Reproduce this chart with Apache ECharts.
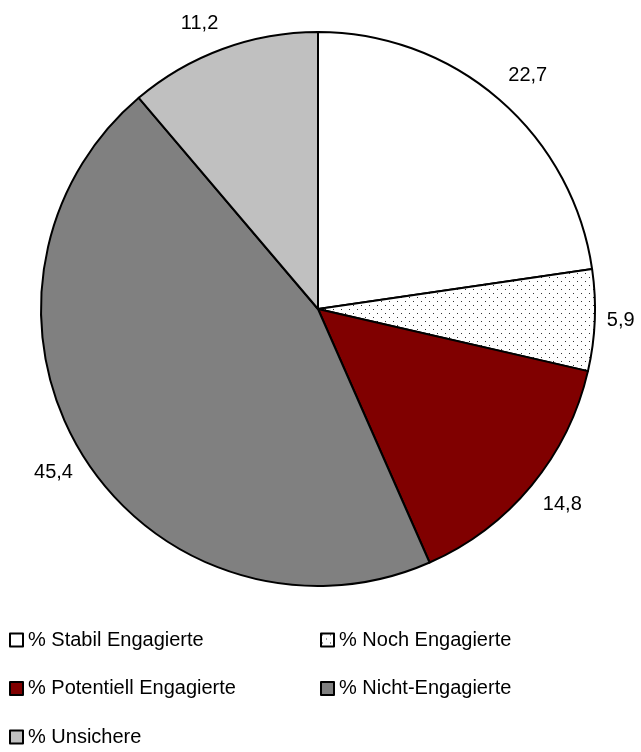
<!DOCTYPE html>
<html>
<head>
<meta charset="utf-8">
<script src="https://cdn.jsdelivr.net/npm/echarts@6/dist/echarts.min.js"></script>
<style>
  html, body { margin: 0; padding: 0; background: #fff; }
  #chart { width: 641px; height: 752px; }
</style>
</head>
<body>
<div id="chart"></div>
<script>
// Daten
const categories = ['% Stabil Engagierte', '% Noch Engagierte', '% Potentiell Engagierte', '% Nicht-Engagierte', '% Unsichere'];
const values = [22.7, 5.9, 14.8, 45.4, 11.2];
const valueLabels = ['22,7', '5,9', '14,8', '45,4', '11,2'];
const leftLegend = ['% Stabil Engagierte', '% Potentiell Engagierte', '% Unsichere'];
const rightLegend = ['% Noch Engagierte', '% Nicht-Engagierte'];

// gepunktetes Muster
const tile = document.createElement('canvas');
tile.width = 8;
tile.height = 8;
const ctx = tile.getContext('2d');
ctx.fillStyle = '#fff';
ctx.fillRect(0, 0, 8, 8);
ctx.fillStyle = '#333';
ctx.fillRect(1, 1, 1, 1);
ctx.fillRect(5, 5, 1, 1);

const fills = ['#ffffff', { image: tile, repeat: 'repeat' }, '#800000', '#808080', '#c0c0c0'];
const lineLens = [20, 12, 20, 18, 24];
// kleine Verschiebungen der Beschriftungen
const labelShift = [[-9, -9], [-5, 0], [-9, 6], [10, 7], [9, -3]];

const chart = echarts.init(document.getElementById('chart'));
const font = 'Liberation Sans, Arial, sans-serif';

const legendBase = {
  orient: 'vertical',
  top: 625,
  height: 150,
  itemWidth: 13,
  itemHeight: 13,
  itemGap: 28.5,
  selectedMode: false,
  icon: 'rect',
  textStyle: { color: '#000', fontSize: 20, fontFamily: font }
};

chart.setOption({
  backgroundColor: '#fff',
  animation: false,
  legend: [
    Object.assign({}, legendBase, { left: 4, data: leftLegend }),
    Object.assign({}, legendBase, { left: 315, data: rightLegend })
  ],
  series: [
    {
      type: 'pie',
      center: [318, 309],
      radius: 277,
      startAngle: 90,
      clockwise: true,
      avoidLabelOverlap: false,
      itemStyle: { borderColor: '#000', borderWidth: 2 },
      label: {
        show: true,
        position: 'outside',
        color: '#000',
        fontSize: 20,
        fontFamily: font,
        formatter: p => valueLabels[p.dataIndex]
      },
      labelLine: { show: false, length2: 0 },
      labelLayout: p => ({ dx: labelShift[p.dataIndex][0], dy: labelShift[p.dataIndex][1] }),
      emphasis: { disabled: true },
      data: categories.map((c, i) => ({
        name: c,
        value: values[i],
        itemStyle: { color: fills[i] },
        labelLine: { show: false, length: lineLens[i], length2: 0 }
      }))
    }
  ]
});
</script>
</body>
</html>
